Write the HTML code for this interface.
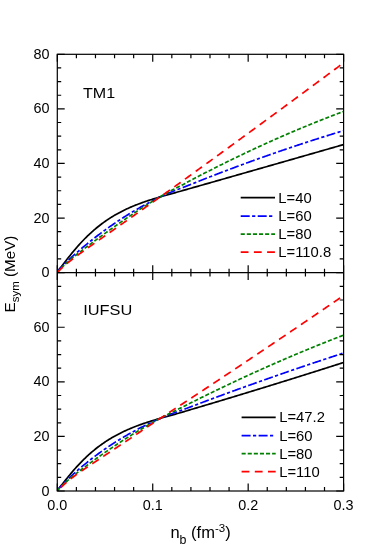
<!DOCTYPE html>
<html><head><meta charset="utf-8"><title>Esym</title>
<style>html,body{margin:0;padding:0;background:#fff}svg{display:block;will-change:transform;transform:translateZ(0)}text{font-family:"Liberation Sans",sans-serif;fill:#000}</style></head><body>
<svg width="382" height="546" viewBox="0 0 382 546">
<rect width="382" height="546" fill="#fff"/>
<clipPath id="ct"><rect x="57.3" y="54.3" width="286.3" height="218.3"/></clipPath>
<clipPath id="cb"><rect x="57.3" y="272.6" width="286.3" height="218.39999999999998"/></clipPath>
<g fill="none" stroke-width="1.7" clip-path="url(#ct)">
<path d="M57.30,272.60 L58.25,270.56 L59.21,269.32 L60.16,268.12 L61.12,266.91 L62.07,265.69 L63.03,264.46 L63.98,263.23 L64.93,261.99 L65.89,260.76 L66.84,259.54 L67.80,258.32 L68.75,257.11 L69.71,255.91 L70.66,254.72 L71.61,253.54 L72.57,252.37 L73.52,251.22 L74.48,250.08 L75.43,248.95 L76.39,247.84 L77.34,246.74 L78.30,245.66 L79.25,244.60 L80.20,243.55 L81.16,242.51 L82.11,241.49 L83.07,240.49 L84.02,239.50 L84.98,238.52 L85.93,237.57 L86.88,236.62 L87.84,235.70 L88.79,234.79 L89.75,233.89 L90.70,233.01 L91.66,232.14 L92.61,231.29 L93.56,230.45 L94.52,229.62 L95.47,228.82 L96.43,228.02 L97.38,227.24 L98.34,226.47 L99.29,225.72 L100.25,224.97 L101.20,224.25 L102.15,223.53 L103.11,222.83 L104.06,222.14 L105.02,221.46 L105.97,220.80 L106.93,220.14 L107.88,219.50 L108.83,218.87 L109.79,218.26 L110.74,217.65 L111.70,217.05 L112.65,216.47 L113.61,215.89 L114.56,215.33 L115.51,214.77 L116.47,214.23 L117.42,213.70 L118.38,213.17 L119.33,212.66 L120.29,212.15 L121.24,211.65 L122.19,211.17 L123.15,210.69 L124.10,210.22 L125.06,209.75 L126.01,209.30 L126.97,208.85 L127.92,208.41 L128.88,207.98 L129.83,207.56 L130.78,207.14 L131.74,206.73 L132.69,206.33 L133.65,205.94 L134.60,205.55 L135.56,205.16 L136.51,204.79 L137.46,204.42 L138.42,204.05 L139.37,203.69 L140.33,203.34 L141.28,202.99 L142.24,202.64 L143.19,202.30 L144.14,201.97 L145.10,201.64 L146.05,201.31 L147.01,200.99 L147.96,200.68 L148.92,200.36 L149.87,200.05 L150.82,199.75 L151.78,199.44 L152.73,199.14 L153.69,198.85 L154.64,198.56 L155.60,198.27 L156.55,197.98 L157.50,197.69 L158.46,197.41 L159.41,197.13 L160.37,196.85 L161.32,196.58 L162.28,196.30 L163.23,196.03 L164.19,195.76 L165.14,195.49 L166.09,195.22 L167.05,194.96 L168.00,194.69 L168.96,194.42 L169.91,194.16 L170.87,193.89 L171.82,193.63 L172.77,193.36 L173.73,193.10 L174.68,192.83 L175.64,192.56 L176.59,192.30 L177.55,192.03 L178.50,191.76 L179.45,191.49 L180.41,191.22 L181.36,190.95 L182.32,190.68 L183.27,190.41 L184.23,190.14 L185.18,189.86 L186.13,189.59 L187.09,189.32 L188.04,189.05 L189.00,188.78 L189.95,188.51 L190.91,188.24 L191.86,187.97 L192.82,187.69 L193.77,187.42 L194.72,187.15 L195.68,186.88 L196.63,186.61 L197.59,186.34 L198.54,186.07 L199.50,185.80 L200.45,185.52 L201.40,185.25 L202.36,184.98 L203.31,184.71 L204.27,184.44 L205.22,184.17 L206.18,183.89 L207.13,183.62 L208.08,183.35 L209.04,183.08 L209.99,182.81 L210.95,182.53 L211.90,182.26 L212.86,181.99 L213.81,181.72 L214.76,181.45 L215.72,181.17 L216.67,180.90 L217.63,180.63 L218.58,180.36 L219.54,180.09 L220.49,179.81 L221.45,179.54 L222.40,179.27 L223.35,179.00 L224.31,178.73 L225.26,178.45 L226.22,178.18 L227.17,177.91 L228.13,177.64 L229.08,177.36 L230.03,177.09 L230.99,176.82 L231.94,176.55 L232.90,176.28 L233.85,176.00 L234.81,175.73 L235.76,175.46 L236.71,175.19 L237.67,174.91 L238.62,174.64 L239.58,174.37 L240.53,174.10 L241.49,173.82 L242.44,173.55 L243.40,173.28 L244.35,173.01 L245.30,172.73 L246.26,172.46 L247.21,172.19 L248.17,171.92 L249.12,171.64 L250.08,171.37 L251.03,171.10 L251.98,170.83 L252.94,170.55 L253.89,170.28 L254.85,170.01 L255.80,169.74 L256.76,169.46 L257.71,169.19 L258.66,168.92 L259.62,168.64 L260.57,168.37 L261.53,168.10 L262.48,167.83 L263.44,167.55 L264.39,167.28 L265.34,167.01 L266.30,166.73 L267.25,166.46 L268.21,166.19 L269.16,165.92 L270.12,165.64 L271.07,165.37 L272.03,165.10 L272.98,164.82 L273.93,164.55 L274.89,164.28 L275.84,164.00 L276.80,163.73 L277.75,163.46 L278.71,163.18 L279.66,162.91 L280.61,162.64 L281.57,162.36 L282.52,162.09 L283.48,161.82 L284.43,161.55 L285.39,161.27 L286.34,161.00 L287.29,160.73 L288.25,160.45 L289.20,160.18 L290.16,159.91 L291.11,159.63 L292.07,159.36 L293.02,159.08 L293.97,158.81 L294.93,158.54 L295.88,158.26 L296.84,157.99 L297.79,157.72 L298.75,157.44 L299.70,157.17 L300.66,156.90 L301.61,156.62 L302.56,156.35 L303.52,156.08 L304.47,155.80 L305.43,155.53 L306.38,155.26 L307.34,154.98 L308.29,154.71 L309.24,154.43 L310.20,154.16 L311.15,153.89 L312.11,153.61 L313.06,153.34 L314.02,153.07 L314.97,152.79 L315.92,152.52 L316.88,152.24 L317.83,151.97 L318.79,151.70 L319.74,151.42 L320.70,151.15 L321.65,150.87 L322.60,150.60 L323.56,150.33 L324.51,150.05 L325.47,149.78 L326.42,149.50 L327.38,149.23 L328.33,148.96 L329.29,148.68 L330.24,148.41 L331.19,148.13 L332.15,147.86 L333.10,147.59 L334.06,147.31 L335.01,147.04 L335.97,146.76 L336.92,146.49 L337.87,146.21 L338.83,145.94 L339.78,145.67 L340.74,145.39 L341.69,145.12 L342.65,144.84 L343.60,144.57" stroke="#000000"/>
<path d="M57.30,272.60 L58.25,270.83 L59.21,269.62 L60.16,268.51 L61.12,267.46 L62.07,266.44 L63.03,265.46 L63.98,264.49 L64.93,263.54 L65.89,262.60 L66.84,261.68 L67.80,260.77 L68.75,259.87 L69.71,258.98 L70.66,258.09 L71.61,257.22 L72.57,256.35 L73.52,255.49 L74.48,254.63 L75.43,253.78 L76.39,252.94 L77.34,252.11 L78.30,251.28 L79.25,250.45 L80.20,249.63 L81.16,248.82 L82.11,248.01 L83.07,247.21 L84.02,246.41 L84.98,245.62 L85.93,244.83 L86.88,244.05 L87.84,243.27 L88.79,242.50 L89.75,241.73 L90.70,240.97 L91.66,240.21 L92.61,239.46 L93.56,238.71 L94.52,237.97 L95.47,237.23 L96.43,236.49 L97.38,235.76 L98.34,235.04 L99.29,234.31 L100.25,233.60 L101.20,232.89 L102.15,232.18 L103.11,231.47 L104.06,230.77 L105.02,230.08 L105.97,229.39 L106.93,228.70 L107.88,228.02 L108.83,227.34 L109.79,226.67 L110.74,226.00 L111.70,225.34 L112.65,224.68 L113.61,224.02 L114.56,223.37 L115.51,222.72 L116.47,222.08 L117.42,221.44 L118.38,220.80 L119.33,220.17 L120.29,219.54 L121.24,218.92 L122.19,218.30 L123.15,217.69 L124.10,217.08 L125.06,216.47 L126.01,215.87 L126.97,215.27 L127.92,214.68 L128.88,214.09 L129.83,213.50 L130.78,212.92 L131.74,212.34 L132.69,211.77 L133.65,211.20 L134.60,210.63 L135.56,210.07 L136.51,209.51 L137.46,208.96 L138.42,208.41 L139.37,207.87 L140.33,207.32 L141.28,206.79 L142.24,206.25 L143.19,205.72 L144.14,205.20 L145.10,204.68 L146.05,204.16 L147.01,203.64 L147.96,203.13 L148.92,202.63 L149.87,202.13 L150.82,201.63 L151.78,201.14 L152.73,200.65 L153.69,200.16 L154.64,199.68 L155.60,199.20 L156.55,198.72 L157.50,198.25 L158.46,197.79 L159.41,197.32 L160.37,196.87 L161.32,196.41 L162.28,195.97 L163.23,195.53 L164.19,195.09 L165.14,194.66 L166.09,194.24 L167.05,193.82 L168.00,193.41 L168.96,193.01 L169.91,192.61 L170.87,192.21 L171.82,191.82 L172.77,191.44 L173.73,191.06 L174.68,190.68 L175.64,190.30 L176.59,189.93 L177.55,189.56 L178.50,189.19 L179.45,188.82 L180.41,188.46 L181.36,188.09 L182.32,187.72 L183.27,187.36 L184.23,186.99 L185.18,186.62 L186.13,186.25 L187.09,185.88 L188.04,185.51 L189.00,185.13 L189.95,184.75 L190.91,184.38 L191.86,184.00 L192.82,183.62 L193.77,183.24 L194.72,182.86 L195.68,182.47 L196.63,182.09 L197.59,181.71 L198.54,181.33 L199.50,180.96 L200.45,180.58 L201.40,180.20 L202.36,179.82 L203.31,179.45 L204.27,179.07 L205.22,178.70 L206.18,178.32 L207.13,177.95 L208.08,177.58 L209.04,177.20 L209.99,176.83 L210.95,176.46 L211.90,176.09 L212.86,175.72 L213.81,175.35 L214.76,174.98 L215.72,174.61 L216.67,174.24 L217.63,173.88 L218.58,173.51 L219.54,173.14 L220.49,172.78 L221.45,172.41 L222.40,172.05 L223.35,171.69 L224.31,171.32 L225.26,170.96 L226.22,170.60 L227.17,170.24 L228.13,169.88 L229.08,169.52 L230.03,169.16 L230.99,168.80 L231.94,168.44 L232.90,168.08 L233.85,167.73 L234.81,167.37 L235.76,167.01 L236.71,166.66 L237.67,166.30 L238.62,165.95 L239.58,165.60 L240.53,165.24 L241.49,164.89 L242.44,164.54 L243.40,164.19 L244.35,163.84 L245.30,163.49 L246.26,163.14 L247.21,162.79 L248.17,162.44 L249.12,162.09 L250.08,161.75 L251.03,161.40 L251.98,161.06 L252.94,160.71 L253.89,160.37 L254.85,160.02 L255.80,159.68 L256.76,159.34 L257.71,158.99 L258.66,158.65 L259.62,158.31 L260.57,157.97 L261.53,157.63 L262.48,157.29 L263.44,156.95 L264.39,156.62 L265.34,156.28 L266.30,155.94 L267.25,155.60 L268.21,155.27 L269.16,154.93 L270.12,154.60 L271.07,154.27 L272.03,153.93 L272.98,153.60 L273.93,153.27 L274.89,152.94 L275.84,152.61 L276.80,152.28 L277.75,151.95 L278.71,151.62 L279.66,151.29 L280.61,150.96 L281.57,150.63 L282.52,150.31 L283.48,149.98 L284.43,149.66 L285.39,149.33 L286.34,149.01 L287.29,148.68 L288.25,148.36 L289.20,148.04 L290.16,147.72 L291.11,147.39 L292.07,147.07 L293.02,146.75 L293.97,146.43 L294.93,146.12 L295.88,145.80 L296.84,145.48 L297.79,145.16 L298.75,144.85 L299.70,144.53 L300.66,144.22 L301.61,143.90 L302.56,143.59 L303.52,143.27 L304.47,142.96 L305.43,142.65 L306.38,142.34 L307.34,142.03 L308.29,141.71 L309.24,141.40 L310.20,141.10 L311.15,140.79 L312.11,140.48 L313.06,140.17 L314.02,139.86 L314.97,139.56 L315.92,139.25 L316.88,138.95 L317.83,138.64 L318.79,138.34 L319.74,138.04 L320.70,137.73 L321.65,137.43 L322.60,137.13 L323.56,136.83 L324.51,136.53 L325.47,136.23 L326.42,135.93 L327.38,135.63 L328.33,135.33 L329.29,135.03 L330.24,134.74 L331.19,134.44 L332.15,134.15 L333.10,133.85 L334.06,133.56 L335.01,133.26 L335.97,132.97 L336.92,132.68 L337.87,132.39 L338.83,132.09 L339.78,131.80 L340.74,131.51 L341.69,131.22 L342.65,130.93 L343.60,130.65" stroke="#0000ff" stroke-dasharray="9 2.4 3.2 2.4"/>
<path d="M57.30,272.60 L58.25,271.44 L59.21,270.28 L60.16,269.20 L61.12,268.17 L62.07,267.18 L63.03,266.24 L63.98,265.32 L64.93,264.43 L65.89,263.56 L66.84,262.70 L67.80,261.87 L68.75,261.04 L69.71,260.23 L70.66,259.43 L71.61,258.63 L72.57,257.85 L73.52,257.07 L74.48,256.30 L75.43,255.54 L76.39,254.78 L77.34,254.03 L78.30,253.28 L79.25,252.54 L80.20,251.80 L81.16,251.06 L82.11,250.33 L83.07,249.60 L84.02,248.87 L84.98,248.14 L85.93,247.42 L86.88,246.70 L87.84,245.98 L88.79,245.27 L89.75,244.55 L90.70,243.84 L91.66,243.13 L92.61,242.42 L93.56,241.72 L94.52,241.01 L95.47,240.31 L96.43,239.61 L97.38,238.91 L98.34,238.21 L99.29,237.51 L100.25,236.81 L101.20,236.12 L102.15,235.42 L103.11,234.73 L104.06,234.04 L105.02,233.35 L105.97,232.66 L106.93,231.98 L107.88,231.29 L108.83,230.61 L109.79,229.93 L110.74,229.25 L111.70,228.57 L112.65,227.89 L113.61,227.21 L114.56,226.54 L115.51,225.87 L116.47,225.19 L117.42,224.53 L118.38,223.86 L119.33,223.19 L120.29,222.53 L121.24,221.86 L122.19,221.20 L123.15,220.54 L124.10,219.89 L125.06,219.23 L126.01,218.58 L126.97,217.92 L127.92,217.27 L128.88,216.63 L129.83,215.98 L130.78,215.34 L131.74,214.70 L132.69,214.06 L133.65,213.42 L134.60,212.79 L135.56,212.15 L136.51,211.52 L137.46,210.90 L138.42,210.27 L139.37,209.65 L140.33,209.03 L141.28,208.41 L142.24,207.79 L143.19,207.18 L144.14,206.57 L145.10,205.97 L146.05,205.36 L147.01,204.76 L147.96,204.16 L148.92,203.56 L149.87,202.97 L150.82,202.38 L151.78,201.79 L152.73,201.21 L153.69,200.63 L154.64,200.05 L155.60,199.48 L156.55,198.90 L157.50,198.34 L158.46,197.77 L159.41,197.21 L160.37,196.66 L161.32,196.10 L162.28,195.56 L163.23,195.02 L164.19,194.48 L165.14,193.95 L166.09,193.42 L167.05,192.90 L168.00,192.38 L168.96,191.87 L169.91,191.36 L170.87,190.85 L171.82,190.35 L172.77,189.84 L173.73,189.35 L174.68,188.85 L175.64,188.35 L176.59,187.86 L177.55,187.36 L178.50,186.87 L179.45,186.37 L180.41,185.88 L181.36,185.38 L182.32,184.88 L183.27,184.38 L184.23,183.88 L185.18,183.38 L186.13,182.88 L187.09,182.37 L188.04,181.87 L189.00,181.36 L189.95,180.85 L190.91,180.34 L191.86,179.83 L192.82,179.32 L193.77,178.82 L194.72,178.31 L195.68,177.81 L196.63,177.31 L197.59,176.81 L198.54,176.31 L199.50,175.82 L200.45,175.32 L201.40,174.82 L202.36,174.33 L203.31,173.84 L204.27,173.34 L205.22,172.85 L206.18,172.36 L207.13,171.87 L208.08,171.38 L209.04,170.89 L209.99,170.41 L210.95,169.92 L211.90,169.44 L212.86,168.95 L213.81,168.47 L214.76,167.99 L215.72,167.51 L216.67,167.03 L217.63,166.55 L218.58,166.07 L219.54,165.59 L220.49,165.11 L221.45,164.64 L222.40,164.16 L223.35,163.69 L224.31,163.22 L225.26,162.74 L226.22,162.27 L227.17,161.80 L228.13,161.33 L229.08,160.87 L230.03,160.40 L230.99,159.93 L231.94,159.47 L232.90,159.00 L233.85,158.54 L234.81,158.07 L235.76,157.61 L236.71,157.15 L237.67,156.69 L238.62,156.23 L239.58,155.78 L240.53,155.32 L241.49,154.86 L242.44,154.41 L243.40,153.95 L244.35,153.50 L245.30,153.05 L246.26,152.59 L247.21,152.14 L248.17,151.69 L249.12,151.25 L250.08,150.80 L251.03,150.35 L251.98,149.91 L252.94,149.46 L253.89,149.02 L254.85,148.57 L255.80,148.13 L256.76,147.69 L257.71,147.25 L258.66,146.81 L259.62,146.37 L260.57,145.93 L261.53,145.50 L262.48,145.06 L263.44,144.63 L264.39,144.19 L265.34,143.76 L266.30,143.33 L267.25,142.90 L268.21,142.47 L269.16,142.04 L270.12,141.61 L271.07,141.18 L272.03,140.76 L272.98,140.33 L273.93,139.91 L274.89,139.48 L275.84,139.06 L276.80,138.64 L277.75,138.22 L278.71,137.80 L279.66,137.38 L280.61,136.96 L281.57,136.54 L282.52,136.13 L283.48,135.71 L284.43,135.30 L285.39,134.88 L286.34,134.47 L287.29,134.06 L288.25,133.65 L289.20,133.24 L290.16,132.83 L291.11,132.42 L292.07,132.02 L293.02,131.61 L293.97,131.21 L294.93,130.80 L295.88,130.40 L296.84,130.00 L297.79,129.59 L298.75,129.19 L299.70,128.79 L300.66,128.40 L301.61,128.00 L302.56,127.60 L303.52,127.21 L304.47,126.81 L305.43,126.42 L306.38,126.03 L307.34,125.63 L308.29,125.24 L309.24,124.85 L310.20,124.46 L311.15,124.07 L312.11,123.69 L313.06,123.30 L314.02,122.92 L314.97,122.53 L315.92,122.15 L316.88,121.76 L317.83,121.38 L318.79,121.00 L319.74,120.62 L320.70,120.24 L321.65,119.87 L322.60,119.49 L323.56,119.11 L324.51,118.74 L325.47,118.36 L326.42,117.99 L327.38,117.62 L328.33,117.25 L329.29,116.88 L330.24,116.51 L331.19,116.14 L332.15,115.77 L333.10,115.40 L334.06,115.04 L335.01,114.67 L335.97,114.31 L336.92,113.94 L337.87,113.58 L338.83,113.22 L339.78,112.86 L340.74,112.50 L341.69,112.14 L342.65,111.79 L343.60,111.43" stroke="#008000" stroke-dasharray="4.1 2"/>
<path d="M57.30,272.60 L58.25,271.61 L59.21,270.59 L60.16,269.62 L61.12,268.69 L62.07,267.79 L63.03,266.92 L63.98,266.07 L64.93,265.25 L65.89,264.44 L66.84,263.64 L67.80,262.86 L68.75,262.09 L69.71,261.33 L70.66,260.58 L71.61,259.83 L72.57,259.10 L73.52,258.37 L74.48,257.64 L75.43,256.93 L76.39,256.21 L77.34,255.50 L78.30,254.80 L79.25,254.10 L80.20,253.40 L81.16,252.71 L82.11,252.01 L83.07,251.32 L84.02,250.64 L84.98,249.95 L85.93,249.27 L86.88,248.59 L87.84,247.91 L88.79,247.23 L89.75,246.55 L90.70,245.88 L91.66,245.20 L92.61,244.53 L93.56,243.85 L94.52,243.18 L95.47,242.51 L96.43,241.84 L97.38,241.17 L98.34,240.50 L99.29,239.83 L100.25,239.16 L101.20,238.49 L102.15,237.82 L103.11,237.15 L104.06,236.48 L105.02,235.81 L105.97,235.14 L106.93,234.48 L107.88,233.81 L108.83,233.14 L109.79,232.47 L110.74,231.80 L111.70,231.13 L112.65,230.46 L113.61,229.79 L114.56,229.12 L115.51,228.45 L116.47,227.79 L117.42,227.12 L118.38,226.45 L119.33,225.77 L120.29,225.10 L121.24,224.43 L122.19,223.76 L123.15,223.09 L124.10,222.42 L125.06,221.75 L126.01,221.08 L126.97,220.40 L127.92,219.73 L128.88,219.06 L129.83,218.39 L130.78,217.71 L131.74,217.04 L132.69,216.37 L133.65,215.69 L134.60,215.02 L135.56,214.34 L136.51,213.67 L137.46,212.99 L138.42,212.32 L139.37,211.64 L140.33,210.97 L141.28,210.29 L142.24,209.62 L143.19,208.94 L144.14,208.27 L145.10,207.59 L146.05,206.91 L147.01,206.24 L147.96,205.56 L148.92,204.88 L149.87,204.21 L150.82,203.53 L151.78,202.85 L152.73,202.18 L153.69,201.50 L154.64,200.82 L155.60,200.15 L156.55,199.47 L157.50,198.79 L158.46,198.11 L159.41,197.44 L160.37,196.76 L161.32,196.09 L162.28,195.41 L163.23,194.74 L164.19,194.06 L165.14,193.39 L166.09,192.71 L167.05,192.03 L168.00,191.36 L168.96,190.68 L169.91,190.01 L170.87,189.33 L171.82,188.65 L172.77,187.97 L173.73,187.29 L174.68,186.61 L175.64,185.93 L176.59,185.25 L177.55,184.56 L178.50,183.88 L179.45,183.19 L180.41,182.51 L181.36,181.82 L182.32,181.13 L183.27,180.44 L184.23,179.75 L185.18,179.06 L186.13,178.37 L187.09,177.68 L188.04,176.99 L189.00,176.29 L189.95,175.60 L190.91,174.90 L191.86,174.21 L192.82,173.52 L193.77,172.82 L194.72,172.13 L195.68,171.44 L196.63,170.75 L197.59,170.06 L198.54,169.37 L199.50,168.68 L200.45,167.99 L201.40,167.29 L202.36,166.60 L203.31,165.91 L204.27,165.22 L205.22,164.53 L206.18,163.83 L207.13,163.14 L208.08,162.45 L209.04,161.76 L209.99,161.07 L210.95,160.37 L211.90,159.68 L212.86,158.99 L213.81,158.29 L214.76,157.60 L215.72,156.91 L216.67,156.21 L217.63,155.52 L218.58,154.83 L219.54,154.13 L220.49,153.44 L221.45,152.75 L222.40,152.05 L223.35,151.36 L224.31,150.66 L225.26,149.97 L226.22,149.27 L227.17,148.58 L228.13,147.88 L229.08,147.19 L230.03,146.49 L230.99,145.80 L231.94,145.10 L232.90,144.41 L233.85,143.71 L234.81,143.01 L235.76,142.32 L236.71,141.62 L237.67,140.93 L238.62,140.23 L239.58,139.53 L240.53,138.84 L241.49,138.14 L242.44,137.44 L243.40,136.75 L244.35,136.05 L245.30,135.35 L246.26,134.65 L247.21,133.96 L248.17,133.26 L249.12,132.56 L250.08,131.86 L251.03,131.16 L251.98,130.47 L252.94,129.77 L253.89,129.07 L254.85,128.37 L255.80,127.67 L256.76,126.97 L257.71,126.27 L258.66,125.58 L259.62,124.88 L260.57,124.18 L261.53,123.48 L262.48,122.78 L263.44,122.08 L264.39,121.38 L265.34,120.68 L266.30,119.98 L267.25,119.28 L268.21,118.58 L269.16,117.88 L270.12,117.18 L271.07,116.47 L272.03,115.77 L272.98,115.07 L273.93,114.37 L274.89,113.67 L275.84,112.97 L276.80,112.27 L277.75,111.57 L278.71,110.86 L279.66,110.16 L280.61,109.46 L281.57,108.76 L282.52,108.06 L283.48,107.35 L284.43,106.65 L285.39,105.95 L286.34,105.24 L287.29,104.54 L288.25,103.84 L289.20,103.14 L290.16,102.43 L291.11,101.73 L292.07,101.02 L293.02,100.32 L293.97,99.62 L294.93,98.91 L295.88,98.21 L296.84,97.50 L297.79,96.80 L298.75,96.10 L299.70,95.39 L300.66,94.69 L301.61,93.98 L302.56,93.28 L303.52,92.57 L304.47,91.87 L305.43,91.16 L306.38,90.45 L307.34,89.75 L308.29,89.04 L309.24,88.34 L310.20,87.63 L311.15,86.92 L312.11,86.22 L313.06,85.51 L314.02,84.80 L314.97,84.10 L315.92,83.39 L316.88,82.68 L317.83,81.98 L318.79,81.27 L319.74,80.56 L320.70,79.85 L321.65,79.15 L322.60,78.44 L323.56,77.73 L324.51,77.02 L325.47,76.32 L326.42,75.61 L327.38,74.90 L328.33,74.19 L329.29,73.48 L330.24,72.77 L331.19,72.06 L332.15,71.35 L333.10,70.65 L334.06,69.94 L335.01,69.23 L335.97,68.52 L336.92,67.81 L337.87,67.10 L338.83,66.39 L339.78,65.68 L340.74,64.97 L341.69,64.26 L342.65,63.55 L343.60,62.84" stroke="#ff0000" stroke-dasharray="7.8 5.4"/>
</g>
<g fill="none" stroke-width="1.7" clip-path="url(#cb)">
<path d="M57.30,491.00 L58.25,489.21 L59.21,488.01 L60.16,486.83 L61.12,485.63 L62.07,484.43 L63.03,483.23 L63.98,482.02 L64.93,480.82 L65.89,479.62 L66.84,478.43 L67.80,477.25 L68.75,476.08 L69.71,474.92 L70.66,473.77 L71.61,472.63 L72.57,471.51 L73.52,470.40 L74.48,469.31 L75.43,468.23 L76.39,467.16 L77.34,466.11 L78.30,465.08 L79.25,464.06 L80.20,463.06 L81.16,462.07 L82.11,461.09 L83.07,460.14 L84.02,459.19 L84.98,458.27 L85.93,457.35 L86.88,456.46 L87.84,455.57 L88.79,454.71 L89.75,453.85 L90.70,453.01 L91.66,452.19 L92.61,451.38 L93.56,450.58 L94.52,449.80 L95.47,449.03 L96.43,448.27 L97.38,447.53 L98.34,446.80 L99.29,446.08 L100.25,445.38 L101.20,444.69 L102.15,444.01 L103.11,443.34 L104.06,442.68 L105.02,442.04 L105.97,441.41 L106.93,440.78 L107.88,440.17 L108.83,439.57 L109.79,438.99 L110.74,438.41 L111.70,437.84 L112.65,437.28 L113.61,436.73 L114.56,436.19 L115.51,435.67 L116.47,435.15 L117.42,434.64 L118.38,434.13 L119.33,433.64 L120.29,433.16 L121.24,432.68 L122.19,432.22 L123.15,431.76 L124.10,431.30 L125.06,430.86 L126.01,430.42 L126.97,430.00 L127.92,429.57 L128.88,429.16 L129.83,428.75 L130.78,428.35 L131.74,427.96 L132.69,427.57 L133.65,427.19 L134.60,426.81 L135.56,426.44 L136.51,426.07 L137.46,425.71 L138.42,425.36 L139.37,425.01 L140.33,424.67 L141.28,424.33 L142.24,423.99 L143.19,423.66 L144.14,423.34 L145.10,423.02 L146.05,422.70 L147.01,422.38 L147.96,422.07 L148.92,421.77 L149.87,421.47 L150.82,421.17 L151.78,420.87 L152.73,420.58 L153.69,420.28 L154.64,420.00 L155.60,419.71 L156.55,419.43 L157.50,419.15 L158.46,418.87 L159.41,418.59 L160.37,418.32 L161.32,418.05 L162.28,417.78 L163.23,417.51 L164.19,417.25 L165.14,416.98 L166.09,416.72 L167.05,416.45 L168.00,416.19 L168.96,415.93 L169.91,415.66 L170.87,415.40 L171.82,415.13 L172.77,414.86 L173.73,414.60 L174.68,414.33 L175.64,414.06 L176.59,413.78 L177.55,413.51 L178.50,413.23 L179.45,412.96 L180.41,412.68 L181.36,412.40 L182.32,412.12 L183.27,411.84 L184.23,411.56 L185.18,411.27 L186.13,410.99 L187.09,410.70 L188.04,410.42 L189.00,410.13 L189.95,409.85 L190.91,409.56 L191.86,409.28 L192.82,408.99 L193.77,408.71 L194.72,408.43 L195.68,408.14 L196.63,407.86 L197.59,407.58 L198.54,407.29 L199.50,407.01 L200.45,406.73 L201.40,406.44 L202.36,406.16 L203.31,405.87 L204.27,405.59 L205.22,405.30 L206.18,405.02 L207.13,404.74 L208.08,404.45 L209.04,404.17 L209.99,403.88 L210.95,403.59 L211.90,403.31 L212.86,403.02 L213.81,402.74 L214.76,402.45 L215.72,402.16 L216.67,401.88 L217.63,401.59 L218.58,401.31 L219.54,401.02 L220.49,400.73 L221.45,400.44 L222.40,400.16 L223.35,399.87 L224.31,399.58 L225.26,399.29 L226.22,399.01 L227.17,398.72 L228.13,398.43 L229.08,398.14 L230.03,397.85 L230.99,397.57 L231.94,397.28 L232.90,396.99 L233.85,396.70 L234.81,396.41 L235.76,396.12 L236.71,395.83 L237.67,395.54 L238.62,395.25 L239.58,394.96 L240.53,394.67 L241.49,394.38 L242.44,394.09 L243.40,393.80 L244.35,393.51 L245.30,393.22 L246.26,392.93 L247.21,392.64 L248.17,392.35 L249.12,392.06 L250.08,391.76 L251.03,391.47 L251.98,391.18 L252.94,390.89 L253.89,390.60 L254.85,390.30 L255.80,390.01 L256.76,389.72 L257.71,389.43 L258.66,389.13 L259.62,388.84 L260.57,388.55 L261.53,388.25 L262.48,387.96 L263.44,387.67 L264.39,387.37 L265.34,387.08 L266.30,386.79 L267.25,386.49 L268.21,386.20 L269.16,385.90 L270.12,385.61 L271.07,385.31 L272.03,385.02 L272.98,384.72 L273.93,384.43 L274.89,384.13 L275.84,383.84 L276.80,383.54 L277.75,383.25 L278.71,382.95 L279.66,382.65 L280.61,382.36 L281.57,382.06 L282.52,381.77 L283.48,381.47 L284.43,381.17 L285.39,380.87 L286.34,380.58 L287.29,380.28 L288.25,379.98 L289.20,379.69 L290.16,379.39 L291.11,379.09 L292.07,378.79 L293.02,378.49 L293.97,378.20 L294.93,377.90 L295.88,377.60 L296.84,377.30 L297.79,377.00 L298.75,376.70 L299.70,376.40 L300.66,376.10 L301.61,375.80 L302.56,375.50 L303.52,375.20 L304.47,374.90 L305.43,374.60 L306.38,374.30 L307.34,374.00 L308.29,373.70 L309.24,373.40 L310.20,373.10 L311.15,372.80 L312.11,372.50 L313.06,372.20 L314.02,371.90 L314.97,371.60 L315.92,371.29 L316.88,370.99 L317.83,370.69 L318.79,370.39 L319.74,370.09 L320.70,369.78 L321.65,369.48 L322.60,369.18 L323.56,368.88 L324.51,368.57 L325.47,368.27 L326.42,367.97 L327.38,367.66 L328.33,367.36 L329.29,367.06 L330.24,366.75 L331.19,366.45 L332.15,366.14 L333.10,365.84 L334.06,365.53 L335.01,365.23 L335.97,364.93 L336.92,364.62 L337.87,364.32 L338.83,364.01 L339.78,363.70 L340.74,363.40 L341.69,363.09 L342.65,362.79 L343.60,362.48" stroke="#000000"/>
<path d="M57.30,491.00 L58.25,489.21 L59.21,488.03 L60.16,486.95 L61.12,485.92 L62.07,484.92 L63.03,483.94 L63.98,482.98 L64.93,482.03 L65.89,481.09 L66.84,480.17 L67.80,479.25 L68.75,478.34 L69.71,477.44 L70.66,476.55 L71.61,475.67 L72.57,474.80 L73.52,473.93 L74.48,473.07 L75.43,472.22 L76.39,471.38 L77.34,470.54 L78.30,469.71 L79.25,468.89 L80.20,468.07 L81.16,467.26 L82.11,466.46 L83.07,465.66 L84.02,464.87 L84.98,464.09 L85.93,463.31 L86.88,462.54 L87.84,461.77 L88.79,461.01 L89.75,460.26 L90.70,459.51 L91.66,458.77 L92.61,458.04 L93.56,457.31 L94.52,456.58 L95.47,455.86 L96.43,455.15 L97.38,454.45 L98.34,453.75 L99.29,453.05 L100.25,452.36 L101.20,451.68 L102.15,451.00 L103.11,450.33 L104.06,449.66 L105.02,448.99 L105.97,448.34 L106.93,447.69 L107.88,447.04 L108.83,446.40 L109.79,445.76 L110.74,445.13 L111.70,444.50 L112.65,443.88 L113.61,443.26 L114.56,442.65 L115.51,442.05 L116.47,441.44 L117.42,440.85 L118.38,440.26 L119.33,439.67 L120.29,439.08 L121.24,438.51 L122.19,437.93 L123.15,437.36 L124.10,436.80 L125.06,436.24 L126.01,435.68 L126.97,435.13 L127.92,434.59 L128.88,434.04 L129.83,433.51 L130.78,432.97 L131.74,432.44 L132.69,431.92 L133.65,431.40 L134.60,430.88 L135.56,430.37 L136.51,429.86 L137.46,429.35 L138.42,428.85 L139.37,428.36 L140.33,427.86 L141.28,427.38 L142.24,426.89 L143.19,426.41 L144.14,425.93 L145.10,425.46 L146.05,424.99 L147.01,424.53 L147.96,424.06 L148.92,423.61 L149.87,423.15 L150.82,422.70 L151.78,422.25 L152.73,421.81 L153.69,421.37 L154.64,420.93 L155.60,420.50 L156.55,420.07 L157.50,419.65 L158.46,419.22 L159.41,418.81 L160.37,418.39 L161.32,417.98 L162.28,417.58 L163.23,417.18 L164.19,416.78 L165.14,416.39 L166.09,416.01 L167.05,415.63 L168.00,415.25 L168.96,414.88 L169.91,414.51 L170.87,414.15 L171.82,413.79 L172.77,413.43 L173.73,413.07 L174.68,412.72 L175.64,412.37 L176.59,412.02 L177.55,411.67 L178.50,411.33 L179.45,410.98 L180.41,410.63 L181.36,410.29 L182.32,409.94 L183.27,409.59 L184.23,409.24 L185.18,408.89 L186.13,408.54 L187.09,408.19 L188.04,407.83 L189.00,407.48 L189.95,407.12 L190.91,406.76 L191.86,406.40 L192.82,406.04 L193.77,405.68 L194.72,405.32 L195.68,404.96 L196.63,404.60 L197.59,404.24 L198.54,403.88 L199.50,403.52 L200.45,403.16 L201.40,402.80 L202.36,402.44 L203.31,402.08 L204.27,401.73 L205.22,401.37 L206.18,401.01 L207.13,400.66 L208.08,400.30 L209.04,399.94 L209.99,399.59 L210.95,399.23 L211.90,398.88 L212.86,398.52 L213.81,398.17 L214.76,397.82 L215.72,397.46 L216.67,397.11 L217.63,396.76 L218.58,396.40 L219.54,396.05 L220.49,395.70 L221.45,395.35 L222.40,395.00 L223.35,394.64 L224.31,394.29 L225.26,393.94 L226.22,393.59 L227.17,393.24 L228.13,392.89 L229.08,392.55 L230.03,392.20 L230.99,391.85 L231.94,391.50 L232.90,391.15 L233.85,390.81 L234.81,390.46 L235.76,390.11 L236.71,389.76 L237.67,389.42 L238.62,389.07 L239.58,388.73 L240.53,388.38 L241.49,388.04 L242.44,387.69 L243.40,387.35 L244.35,387.01 L245.30,386.66 L246.26,386.32 L247.21,385.98 L248.17,385.63 L249.12,385.29 L250.08,384.95 L251.03,384.61 L251.98,384.27 L252.94,383.93 L253.89,383.59 L254.85,383.25 L255.80,382.91 L256.76,382.57 L257.71,382.23 L258.66,381.89 L259.62,381.55 L260.57,381.21 L261.53,380.87 L262.48,380.54 L263.44,380.20 L264.39,379.86 L265.34,379.53 L266.30,379.19 L267.25,378.85 L268.21,378.52 L269.16,378.18 L270.12,377.85 L271.07,377.51 L272.03,377.18 L272.98,376.84 L273.93,376.51 L274.89,376.18 L275.84,375.84 L276.80,375.51 L277.75,375.18 L278.71,374.85 L279.66,374.52 L280.61,374.18 L281.57,373.85 L282.52,373.52 L283.48,373.19 L284.43,372.86 L285.39,372.53 L286.34,372.20 L287.29,371.87 L288.25,371.55 L289.20,371.22 L290.16,370.89 L291.11,370.56 L292.07,370.23 L293.02,369.91 L293.97,369.58 L294.93,369.25 L295.88,368.93 L296.84,368.60 L297.79,368.28 L298.75,367.95 L299.70,367.63 L300.66,367.30 L301.61,366.98 L302.56,366.65 L303.52,366.33 L304.47,366.01 L305.43,365.69 L306.38,365.36 L307.34,365.04 L308.29,364.72 L309.24,364.40 L310.20,364.08 L311.15,363.76 L312.11,363.43 L313.06,363.11 L314.02,362.79 L314.97,362.48 L315.92,362.16 L316.88,361.84 L317.83,361.52 L318.79,361.20 L319.74,360.88 L320.70,360.57 L321.65,360.25 L322.60,359.93 L323.56,359.61 L324.51,359.30 L325.47,358.98 L326.42,358.67 L327.38,358.35 L328.33,358.04 L329.29,357.72 L330.24,357.41 L331.19,357.09 L332.15,356.78 L333.10,356.47 L334.06,356.15 L335.01,355.84 L335.97,355.53 L336.92,355.22 L337.87,354.91 L338.83,354.59 L339.78,354.28 L340.74,353.97 L341.69,353.66 L342.65,353.35 L343.60,353.04" stroke="#0000ff" stroke-dasharray="9 2.4 3.2 2.4"/>
<path d="M57.30,491.00 L58.25,489.58 L59.21,488.47 L60.16,487.44 L61.12,486.48 L62.07,485.55 L63.03,484.65 L63.98,483.77 L64.93,482.91 L65.89,482.07 L66.84,481.24 L67.80,480.42 L68.75,479.61 L69.71,478.81 L70.66,478.02 L71.61,477.24 L72.57,476.47 L73.52,475.70 L74.48,474.94 L75.43,474.18 L76.39,473.43 L77.34,472.68 L78.30,471.94 L79.25,471.20 L80.20,470.46 L81.16,469.73 L82.11,469.00 L83.07,468.28 L84.02,467.56 L84.98,466.84 L85.93,466.13 L86.88,465.42 L87.84,464.71 L88.79,464.01 L89.75,463.30 L90.70,462.60 L91.66,461.91 L92.61,461.21 L93.56,460.52 L94.52,459.83 L95.47,459.15 L96.43,458.47 L97.38,457.78 L98.34,457.11 L99.29,456.43 L100.25,455.76 L101.20,455.08 L102.15,454.42 L103.11,453.75 L104.06,453.09 L105.02,452.42 L105.97,451.76 L106.93,451.11 L107.88,450.45 L108.83,449.80 L109.79,449.15 L110.74,448.50 L111.70,447.86 L112.65,447.21 L113.61,446.57 L114.56,445.93 L115.51,445.30 L116.47,444.67 L117.42,444.03 L118.38,443.40 L119.33,442.78 L120.29,442.15 L121.24,441.53 L122.19,440.91 L123.15,440.30 L124.10,439.68 L125.06,439.07 L126.01,438.46 L126.97,437.85 L127.92,437.25 L128.88,436.64 L129.83,436.04 L130.78,435.45 L131.74,434.85 L132.69,434.26 L133.65,433.67 L134.60,433.08 L135.56,432.50 L136.51,431.91 L137.46,431.33 L138.42,430.76 L139.37,430.18 L140.33,429.61 L141.28,429.04 L142.24,428.47 L143.19,427.91 L144.14,427.35 L145.10,426.79 L146.05,426.23 L147.01,425.68 L147.96,425.13 L148.92,424.58 L149.87,424.03 L150.82,423.49 L151.78,422.95 L152.73,422.41 L153.69,421.88 L154.64,421.35 L155.60,420.82 L156.55,420.29 L157.50,419.77 L158.46,419.25 L159.41,418.74 L160.37,418.22 L161.32,417.72 L162.28,417.21 L163.23,416.71 L164.19,416.22 L165.14,415.73 L166.09,415.24 L167.05,414.75 L168.00,414.27 L168.96,413.79 L169.91,413.31 L170.87,412.84 L171.82,412.36 L172.77,411.89 L173.73,411.42 L174.68,410.95 L175.64,410.48 L176.59,410.01 L177.55,409.54 L178.50,409.07 L179.45,408.60 L180.41,408.13 L181.36,407.66 L182.32,407.18 L183.27,406.71 L184.23,406.23 L185.18,405.75 L186.13,405.27 L187.09,404.79 L188.04,404.30 L189.00,403.82 L189.95,403.33 L190.91,402.85 L191.86,402.36 L192.82,401.88 L193.77,401.40 L194.72,400.92 L195.68,400.44 L196.63,399.96 L197.59,399.49 L198.54,399.01 L199.50,398.54 L200.45,398.07 L201.40,397.59 L202.36,397.12 L203.31,396.65 L204.27,396.18 L205.22,395.71 L206.18,395.24 L207.13,394.77 L208.08,394.31 L209.04,393.84 L209.99,393.38 L210.95,392.91 L211.90,392.45 L212.86,391.98 L213.81,391.52 L214.76,391.06 L215.72,390.59 L216.67,390.13 L217.63,389.67 L218.58,389.21 L219.54,388.76 L220.49,388.30 L221.45,387.84 L222.40,387.38 L223.35,386.93 L224.31,386.47 L225.26,386.02 L226.22,385.56 L227.17,385.11 L228.13,384.66 L229.08,384.21 L230.03,383.75 L230.99,383.30 L231.94,382.85 L232.90,382.41 L233.85,381.96 L234.81,381.51 L235.76,381.06 L236.71,380.62 L237.67,380.17 L238.62,379.73 L239.58,379.28 L240.53,378.84 L241.49,378.40 L242.44,377.96 L243.40,377.51 L244.35,377.07 L245.30,376.63 L246.26,376.19 L247.21,375.76 L248.17,375.32 L249.12,374.88 L250.08,374.45 L251.03,374.01 L251.98,373.58 L252.94,373.14 L253.89,372.71 L254.85,372.27 L255.80,371.84 L256.76,371.41 L257.71,370.98 L258.66,370.55 L259.62,370.12 L260.57,369.69 L261.53,369.27 L262.48,368.84 L263.44,368.41 L264.39,367.99 L265.34,367.56 L266.30,367.14 L267.25,366.71 L268.21,366.29 L269.16,365.87 L270.12,365.45 L271.07,365.03 L272.03,364.61 L272.98,364.19 L273.93,363.77 L274.89,363.35 L275.84,362.93 L276.80,362.52 L277.75,362.10 L278.71,361.69 L279.66,361.27 L280.61,360.86 L281.57,360.45 L282.52,360.03 L283.48,359.62 L284.43,359.21 L285.39,358.80 L286.34,358.39 L287.29,357.98 L288.25,357.57 L289.20,357.17 L290.16,356.76 L291.11,356.35 L292.07,355.95 L293.02,355.54 L293.97,355.14 L294.93,354.74 L295.88,354.34 L296.84,353.93 L297.79,353.53 L298.75,353.13 L299.70,352.73 L300.66,352.33 L301.61,351.94 L302.56,351.54 L303.52,351.14 L304.47,350.75 L305.43,350.35 L306.38,349.96 L307.34,349.56 L308.29,349.17 L309.24,348.78 L310.20,348.38 L311.15,347.99 L312.11,347.60 L313.06,347.21 L314.02,346.82 L314.97,346.44 L315.92,346.05 L316.88,345.66 L317.83,345.28 L318.79,344.89 L319.74,344.51 L320.70,344.12 L321.65,343.74 L322.60,343.36 L323.56,342.97 L324.51,342.59 L325.47,342.21 L326.42,341.83 L327.38,341.45 L328.33,341.07 L329.29,340.70 L330.24,340.32 L331.19,339.94 L332.15,339.57 L333.10,339.19 L334.06,338.82 L335.01,338.45 L335.97,338.07 L336.92,337.70 L337.87,337.33 L338.83,336.96 L339.78,336.59 L340.74,336.22 L341.69,335.85 L342.65,335.48 L343.60,335.12" stroke="#008000" stroke-dasharray="4.1 2"/>
<path d="M57.30,491.00 L58.25,490.47 L59.21,489.40 L60.16,488.36 L61.12,487.35 L62.07,486.39 L63.03,485.46 L63.98,484.56 L64.93,483.69 L65.89,482.85 L66.84,482.03 L67.80,481.23 L68.75,480.44 L69.71,479.68 L70.66,478.92 L71.61,478.18 L72.57,477.46 L73.52,476.74 L74.48,476.03 L75.43,475.33 L76.39,474.64 L77.34,473.95 L78.30,473.27 L79.25,472.59 L80.20,471.93 L81.16,471.26 L82.11,470.60 L83.07,469.94 L84.02,469.29 L84.98,468.64 L85.93,467.99 L86.88,467.34 L87.84,466.70 L88.79,466.06 L89.75,465.42 L90.70,464.78 L91.66,464.14 L92.61,463.51 L93.56,462.87 L94.52,462.24 L95.47,461.60 L96.43,460.97 L97.38,460.34 L98.34,459.70 L99.29,459.07 L100.25,458.44 L101.20,457.81 L102.15,457.18 L103.11,456.54 L104.06,455.91 L105.02,455.28 L105.97,454.65 L106.93,454.02 L107.88,453.38 L108.83,452.75 L109.79,452.12 L110.74,451.48 L111.70,450.85 L112.65,450.22 L113.61,449.58 L114.56,448.95 L115.51,448.31 L116.47,447.67 L117.42,447.04 L118.38,446.40 L119.33,445.76 L120.29,445.13 L121.24,444.49 L122.19,443.85 L123.15,443.21 L124.10,442.57 L125.06,441.93 L126.01,441.29 L126.97,440.65 L127.92,440.01 L128.88,439.37 L129.83,438.73 L130.78,438.09 L131.74,437.45 L132.69,436.81 L133.65,436.17 L134.60,435.52 L135.56,434.88 L136.51,434.24 L137.46,433.60 L138.42,432.96 L139.37,432.31 L140.33,431.67 L141.28,431.03 L142.24,430.39 L143.19,429.74 L144.14,429.10 L145.10,428.46 L146.05,427.82 L147.01,427.18 L147.96,426.54 L148.92,425.89 L149.87,425.25 L150.82,424.61 L151.78,423.97 L152.73,423.33 L153.69,422.69 L154.64,422.06 L155.60,421.42 L156.55,420.78 L157.50,420.14 L158.46,419.51 L159.41,418.87 L160.37,418.24 L161.32,417.60 L162.28,416.97 L163.23,416.34 L164.19,415.71 L165.14,415.09 L166.09,414.46 L167.05,413.84 L168.00,413.21 L168.96,412.59 L169.91,411.97 L170.87,411.35 L171.82,410.73 L172.77,410.12 L173.73,409.50 L174.68,408.88 L175.64,408.26 L176.59,407.65 L177.55,407.03 L178.50,406.41 L179.45,405.80 L180.41,405.18 L181.36,404.56 L182.32,403.94 L183.27,403.32 L184.23,402.69 L185.18,402.07 L186.13,401.45 L187.09,400.82 L188.04,400.19 L189.00,399.56 L189.95,398.93 L190.91,398.30 L191.86,397.67 L192.82,397.04 L193.77,396.41 L194.72,395.78 L195.68,395.15 L196.63,394.51 L197.59,393.88 L198.54,393.25 L199.50,392.62 L200.45,391.99 L201.40,391.36 L202.36,390.73 L203.31,390.10 L204.27,389.46 L205.22,388.83 L206.18,388.20 L207.13,387.57 L208.08,386.94 L209.04,386.30 L209.99,385.67 L210.95,385.04 L211.90,384.40 L212.86,383.77 L213.81,383.14 L214.76,382.50 L215.72,381.87 L216.67,381.24 L217.63,380.60 L218.58,379.97 L219.54,379.33 L220.49,378.70 L221.45,378.06 L222.40,377.43 L223.35,376.79 L224.31,376.16 L225.26,375.52 L226.22,374.89 L227.17,374.25 L228.13,373.62 L229.08,372.98 L230.03,372.35 L230.99,371.71 L231.94,371.07 L232.90,370.44 L233.85,369.80 L234.81,369.16 L235.76,368.53 L236.71,367.89 L237.67,367.25 L238.62,366.61 L239.58,365.98 L240.53,365.34 L241.49,364.70 L242.44,364.06 L243.40,363.42 L244.35,362.79 L245.30,362.15 L246.26,361.51 L247.21,360.87 L248.17,360.23 L249.12,359.59 L250.08,358.95 L251.03,358.31 L251.98,357.67 L252.94,357.03 L253.89,356.39 L254.85,355.75 L255.80,355.11 L256.76,354.47 L257.71,353.83 L258.66,353.19 L259.62,352.55 L260.57,351.91 L261.53,351.27 L262.48,350.63 L263.44,349.98 L264.39,349.34 L265.34,348.70 L266.30,348.06 L267.25,347.42 L268.21,346.77 L269.16,346.13 L270.12,345.49 L271.07,344.85 L272.03,344.20 L272.98,343.56 L273.93,342.92 L274.89,342.27 L275.84,341.63 L276.80,340.99 L277.75,340.34 L278.71,339.70 L279.66,339.05 L280.61,338.41 L281.57,337.76 L282.52,337.12 L283.48,336.47 L284.43,335.83 L285.39,335.18 L286.34,334.54 L287.29,333.89 L288.25,333.25 L289.20,332.60 L290.16,331.96 L291.11,331.31 L292.07,330.66 L293.02,330.02 L293.97,329.37 L294.93,328.72 L295.88,328.08 L296.84,327.43 L297.79,326.78 L298.75,326.13 L299.70,325.49 L300.66,324.84 L301.61,324.19 L302.56,323.54 L303.52,322.89 L304.47,322.25 L305.43,321.60 L306.38,320.95 L307.34,320.30 L308.29,319.65 L309.24,319.00 L310.20,318.35 L311.15,317.70 L312.11,317.05 L313.06,316.40 L314.02,315.75 L314.97,315.10 L315.92,314.45 L316.88,313.80 L317.83,313.15 L318.79,312.50 L319.74,311.85 L320.70,311.20 L321.65,310.55 L322.60,309.90 L323.56,309.25 L324.51,308.59 L325.47,307.94 L326.42,307.29 L327.38,306.64 L328.33,305.99 L329.29,305.33 L330.24,304.68 L331.19,304.03 L332.15,303.38 L333.10,302.72 L334.06,302.07 L335.01,301.42 L335.97,300.76 L336.92,300.11 L337.87,299.45 L338.83,298.80 L339.78,298.15 L340.74,297.49 L341.69,296.84 L342.65,296.18 L343.60,295.53" stroke="#ff0000" stroke-dasharray="7.8 5.4" stroke-dashoffset="8.3"/>
</g>
<g stroke="#000" stroke-width="1.2" fill="none">
<rect x="57.3" y="54.3" width="286.3" height="436.7"/>
<line x1="57.3" y1="272.6" x2="343.6" y2="272.6"/>
<path d="M57.30,54.3v7.4 M57.30,265.20000000000005V280.0 M57.30,491.0v-7.4 M76.39,54.3v3.9 M76.39,268.70000000000005V276.5 M76.39,491.0v-3.9 M95.47,54.3v3.9 M95.47,268.70000000000005V276.5 M95.47,491.0v-3.9 M114.56,54.3v3.9 M114.56,268.70000000000005V276.5 M114.56,491.0v-3.9 M133.65,54.3v3.9 M133.65,268.70000000000005V276.5 M133.65,491.0v-3.9 M152.73,54.3v7.4 M152.73,265.20000000000005V280.0 M152.73,491.0v-7.4 M171.82,54.3v3.9 M171.82,268.70000000000005V276.5 M171.82,491.0v-3.9 M190.91,54.3v3.9 M190.91,268.70000000000005V276.5 M190.91,491.0v-3.9 M209.99,54.3v3.9 M209.99,268.70000000000005V276.5 M209.99,491.0v-3.9 M229.08,54.3v3.9 M229.08,268.70000000000005V276.5 M229.08,491.0v-3.9 M248.17,54.3v7.4 M248.17,265.20000000000005V280.0 M248.17,491.0v-7.4 M267.25,54.3v3.9 M267.25,268.70000000000005V276.5 M267.25,491.0v-3.9 M286.34,54.3v3.9 M286.34,268.70000000000005V276.5 M286.34,491.0v-3.9 M305.43,54.3v3.9 M305.43,268.70000000000005V276.5 M305.43,491.0v-3.9 M324.51,54.3v3.9 M324.51,268.70000000000005V276.5 M324.51,491.0v-3.9 M343.60,54.3v7.4 M343.60,265.20000000000005V280.0 M343.60,491.0v-7.4 M57.3,272.60h7.4 M343.6,272.60h-7.4 M57.3,258.96h3.9 M343.6,258.96h-3.9 M57.3,245.31h3.9 M343.6,245.31h-3.9 M57.3,231.67h3.9 M343.6,231.67h-3.9 M57.3,218.03h7.4 M343.6,218.03h-7.4 M57.3,204.38h3.9 M343.6,204.38h-3.9 M57.3,190.74h3.9 M343.6,190.74h-3.9 M57.3,177.09h3.9 M343.6,177.09h-3.9 M57.3,163.45h7.4 M343.6,163.45h-7.4 M57.3,149.81h3.9 M343.6,149.81h-3.9 M57.3,136.16h3.9 M343.6,136.16h-3.9 M57.3,122.52h3.9 M343.6,122.52h-3.9 M57.3,108.88h7.4 M343.6,108.88h-7.4 M57.3,95.23h3.9 M343.6,95.23h-3.9 M57.3,81.59h3.9 M343.6,81.59h-3.9 M57.3,67.94h3.9 M343.6,67.94h-3.9 M57.3,54.30h7.4 M343.6,54.30h-7.4 M57.3,491.00h7.4 M343.6,491.00h-7.4 M57.3,477.36h3.9 M343.6,477.36h-3.9 M57.3,463.71h3.9 M343.6,463.71h-3.9 M57.3,450.07h3.9 M343.6,450.07h-3.9 M57.3,436.43h7.4 M343.6,436.43h-7.4 M57.3,422.78h3.9 M343.6,422.78h-3.9 M57.3,409.14h3.9 M343.6,409.14h-3.9 M57.3,395.49h3.9 M343.6,395.49h-3.9 M57.3,381.85h7.4 M343.6,381.85h-7.4 M57.3,368.21h3.9 M343.6,368.21h-3.9 M57.3,354.56h3.9 M343.6,354.56h-3.9 M57.3,340.92h3.9 M343.6,340.92h-3.9 M57.3,327.27h7.4 M343.6,327.27h-7.4 M57.3,313.63h3.9 M343.6,313.63h-3.9 M57.3,299.99h3.9 M343.6,299.99h-3.9 M57.3,286.34h3.9 M343.6,286.34h-3.9"/>
</g>
<g font-size="14.4" text-anchor="end">
<text x="49.5" y="277.20">0</text>
<text x="49.5" y="222.63">20</text>
<text x="49.5" y="168.05">40</text>
<text x="49.5" y="113.47">60</text>
<text x="49.5" y="58.90">80</text>
<text x="49.5" y="495.60">0</text>
<text x="49.5" y="441.03">20</text>
<text x="49.5" y="386.45">40</text>
<text x="49.5" y="331.88">60</text>
</g>
<g font-size="14.4" text-anchor="middle">
<text x="57.30" y="510.0">0.0</text>
<text x="152.73" y="510.0">0.1</text>
<text x="248.17" y="510.0">0.2</text>
<text x="343.60" y="510.0">0.3</text>
</g>
<text transform="translate(83,98) scale(1.05,1)" font-size="15.3">TM1</text>
<text transform="translate(83.2,315) scale(1.07,1)" font-size="15.3">IUFSU</text>
<g fill="none" stroke-width="1.7">
<path d="M240.7,197.60H275.0" stroke="#000000"/>
<path d="M240.7,216.20H273.0" stroke="#0000ff" stroke-dasharray="9 2.4 3.2 2.4"/>
<path d="M240.7,234.20H275.0" stroke="#008000" stroke-dasharray="4.1 2"/>
<path d="M240.7,252.20H275.0" stroke="#ff0000" stroke-dasharray="7.8 5.4"/>
</g>
<g font-size="14.2">
<text transform="translate(278.3,202.60) scale(1.043,1)">L=40</text>
<text transform="translate(278.3,221.20) scale(1.043,1)">L=60</text>
<text transform="translate(278.3,239.20) scale(1.043,1)">L=80</text>
<text transform="translate(278.3,257.20) scale(1.043,1)">L=110.8</text>
</g>
<g fill="none" stroke-width="1.7">
<path d="M241.6,417.40H275.7" stroke="#000000"/>
<path d="M241.6,435.60H273.7" stroke="#0000ff" stroke-dasharray="9 2.4 3.2 2.4"/>
<path d="M241.6,453.60H275.7" stroke="#008000" stroke-dasharray="4.1 2"/>
<path d="M241.6,471.60H275.7" stroke="#ff0000" stroke-dasharray="7.8 5.4"/>
</g>
<g font-size="14.2">
<text transform="translate(279.2,422.40) scale(1.043,1)">L=47.2</text>
<text transform="translate(279.2,440.60) scale(1.043,1)">L=60</text>
<text transform="translate(279.2,458.60) scale(1.043,1)">L=80</text>
<text transform="translate(279.2,476.60) scale(1.043,1)">L=110</text>
</g>
<text x="170.4" y="538.3" font-size="16.5">n<tspan font-size="12.4" dy="5.2">b</tspan><tspan dy="-5.2"> (fm</tspan><tspan font-size="11.5" dy="-6">-3</tspan><tspan dy="6">)</tspan></text>
<text transform="translate(15.45,312.4) rotate(-90)" font-size="15.2">E<tspan font-size="11.5" dy="3.2">sym</tspan><tspan dy="-3.2"> (MeV)</tspan></text>
</svg></body></html>
